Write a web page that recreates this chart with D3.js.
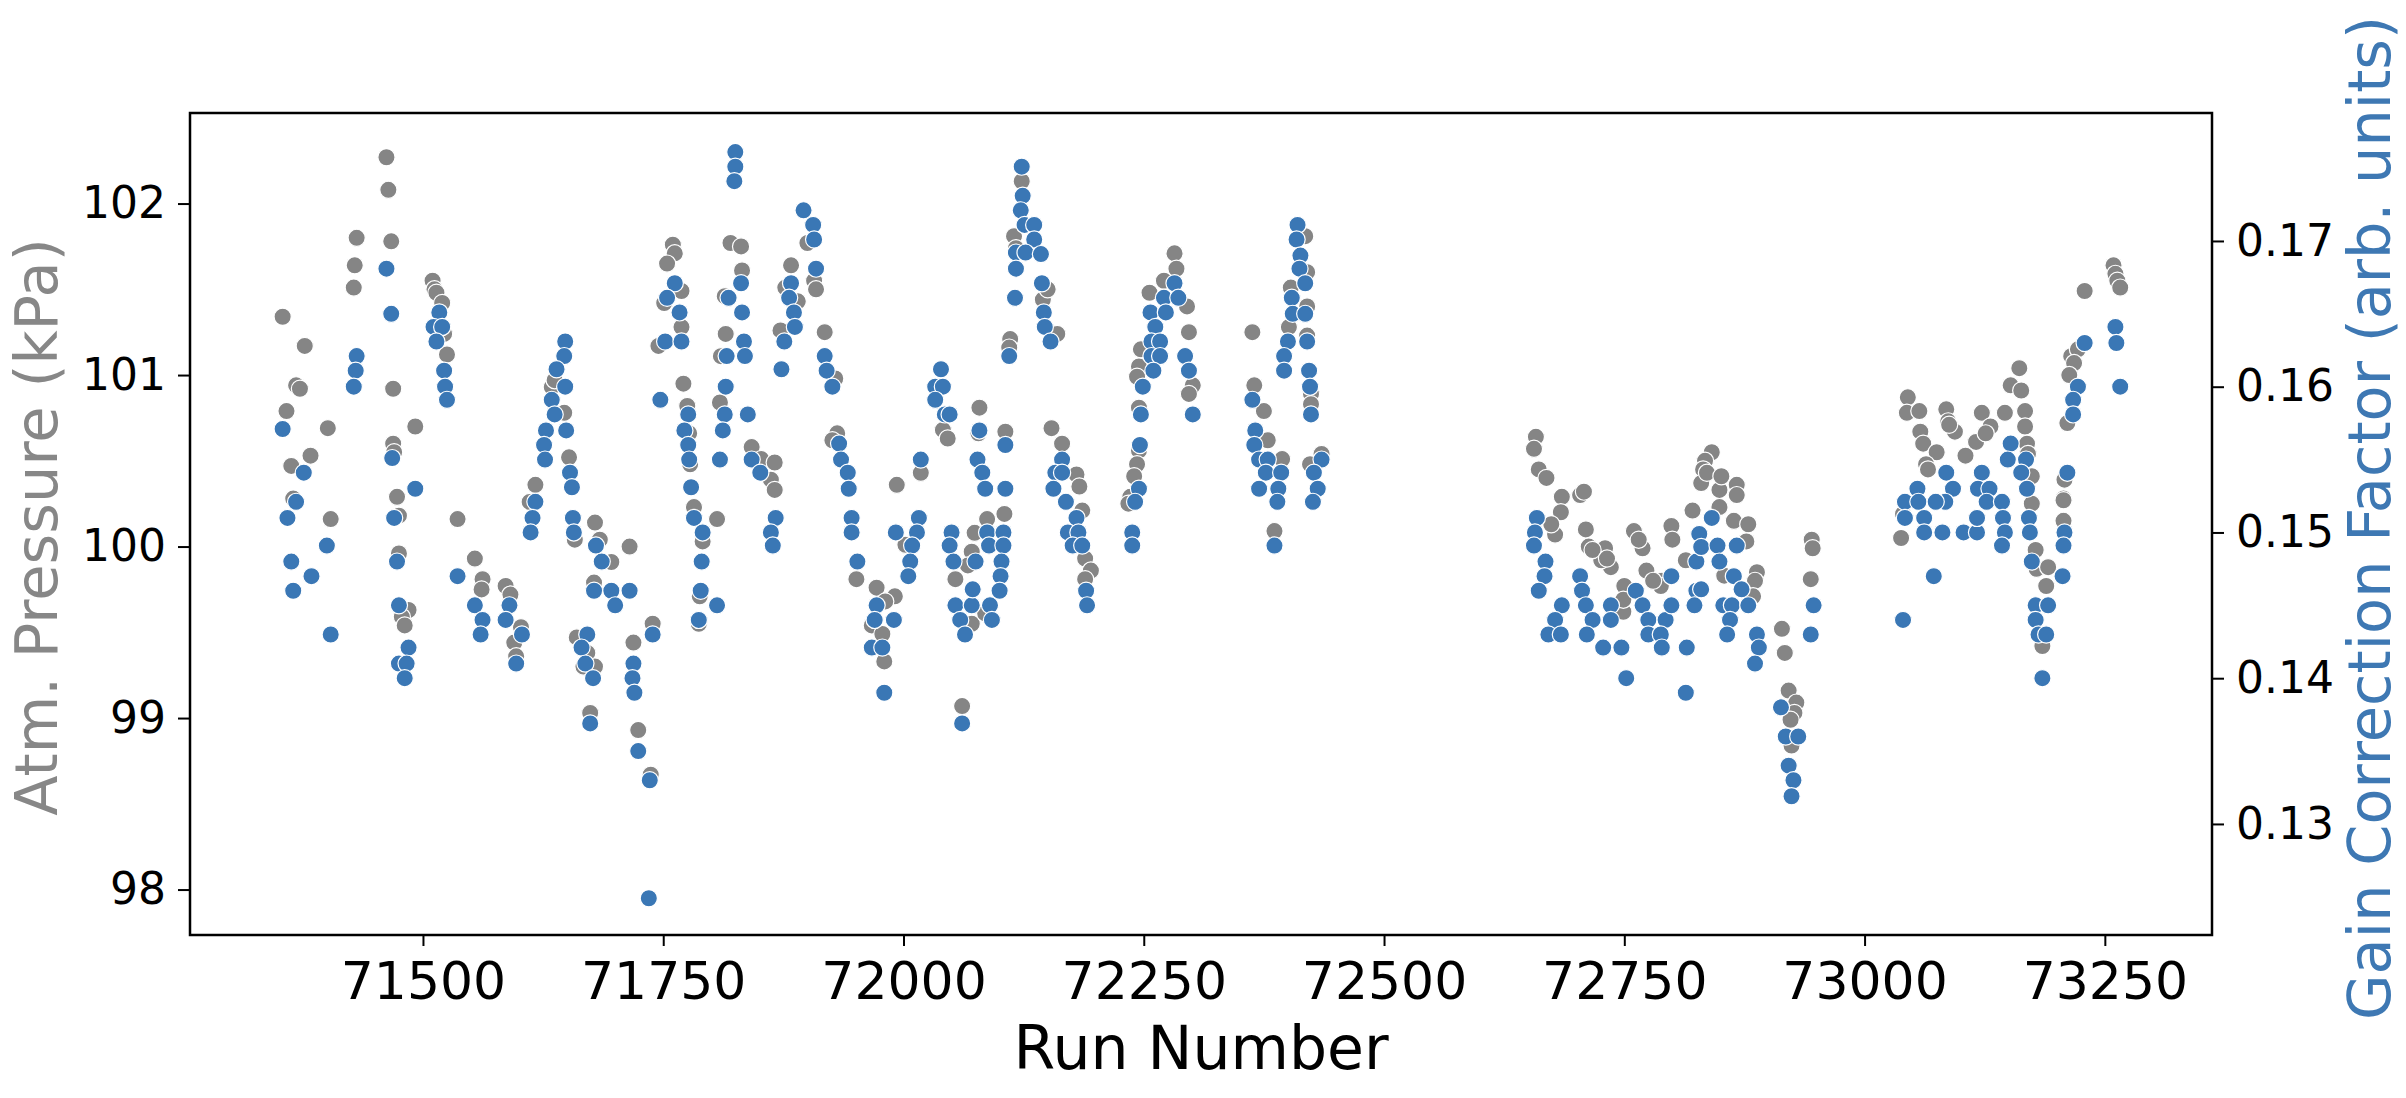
<!DOCTYPE html>
<html>
<head>
<meta charset="utf-8">
<script src="https://cdn.jsdelivr.net/npm/d3@7"></script>
<style>
  body { margin: 0; background: #fff; }
  svg { display: block; font-family: 'DejaVu Sans', sans-serif; }
</style>
</head>
<body>
<div id="chart"></div>
<script>
// atmospheric pressure per run (grey points, left axis)
const pressureRuns = [
  71354, 71377, 71368, 71372, 71358, 71401, 71383, 71363, 71365, 71431,
  71429, 71428, 71462, 71464, 71467, 71469, 71492, 71469, 71470, 71473,
  71510, 71512, 71514, 71520, 71522, 71525, 71617, 71647, 71652, 71634,
  71637, 71760, 71762, 71754, 71769, 71751, 71769, 71745, 71771, 71775,
  71777, 71778,
  71404, 71475, 71475, 71485, 71478, 71481, 71536, 71554, 71562, 71561,
  71586, 71591, 71602, 71595, 71597, 71611, 71658, 71679, 71684, 71696,
  71715, 71678, 71660, 71671, 71679, 71667, 71674, 71719, 71724, 71739,
  71737, 71782, 71791, 71788, 71787, 71806,
  71820, 71831, 71832, 71814, 71815, 71810, 71809, 71842, 71852, 71866,
  71862, 71866, 71883, 71877, 71890, 71872, 71900, 71907, 71909, 71918,
  71929, 71931, 71926, 71993, 72018, 72041, 72046, 72079, 72078, 72106,
  72123, 72115, 72117, 72111, 72110, 72145, 72150, 72160, 72154, 72165,
  72180, 72183, 72282, 72284, 72271, 72256, 72295, 72297, 72247, 72245,
  72243, 72245, 72301, 72297, 72245, 72243, 72240, 72236,
  71951, 71972, 71991, 71981, 71967, 71978, 71980, 72002, 72054, 72074,
  72087, 72071, 72067, 72105, 72061, 72071, 72186, 72189, 72195, 72189,
  72234, 72085,
  72363, 72365, 72375, 72379, 72394, 72401, 72418, 72420, 72403, 72420,
  72420, 72424, 72424, 72435, 72423, 72658, 72656, 72661, 72669, 72685,
  72704, 72708,
  72386, 72684, 72678, 72674, 72710, 72713, 72730, 72736, 72726, 72760,
  72769, 72773, 72750, 72749, 72789, 72788, 72799, 72800, 72814, 72821,
  72717, 72732, 72780, 72749, 72765,
  72841, 72834, 72832, 72830, 72849, 72867, 72867, 72836, 72851, 73045,
  73044, 73057, 73058, 73061, 73075, 73064, 73085, 73087, 73094, 73122,
  73131, 73116, 73105, 73146, 73152, 73161, 73163, 73167, 73167, 73169,
  73174, 73170, 73215, 73222, 73218, 73213, 73211, 73208, 73207, 73229,
  73259, 73261, 73263, 73266, 73066, 73088, 73126,
  72849, 72864, 72879, 72877, 72854, 72888, 72886, 72884, 72914, 72917,
  72921, 72929, 72927, 72923, 72924, 72945, 72946, 72944, 73038, 73040,
  73174, 73178, 73179, 73191, 73189, 73185, 73207, 73207
];
const pressureKPa = [
  101.34, 101.17, 100.94, 100.92, 100.79, 100.69, 100.53, 100.47, 100.28, 101.80,
  101.64, 101.51, 102.27, 102.08, 101.78, 100.92, 100.70, 100.60, 100.55, 100.29,
  101.55, 101.50, 101.48, 101.42, 101.24, 101.12, 100.36, 100.78, 100.52, 100.93,
  100.97, 101.76, 101.71, 101.65, 101.49, 101.42, 101.28, 101.17, 100.95, 100.82,
  100.66, 100.48,
  100.16, 100.18, 99.96, 99.63, 99.59, 99.54, 100.16, 99.93, 99.81, 99.75,
  99.77, 99.72, 99.53, 99.44, 99.36, 100.26, 100.04, 100.14, 100.04, 99.91,
  100.00, 99.79, 99.47, 99.38, 99.30, 99.30, 99.03, 99.44, 98.93, 99.55,
  98.67, 100.23, 100.03, 99.71, 99.55, 100.16,
  101.77, 101.75, 101.61, 101.46, 101.24, 101.11, 100.84, 100.58, 100.51, 100.49,
  100.39, 100.33, 101.64, 101.51, 101.43, 101.26, 101.77, 101.55, 101.50, 101.25,
  100.98, 100.66, 100.62, 100.36, 100.43, 100.68, 100.63, 100.81, 100.66, 100.67,
  102.13, 101.81, 101.74, 101.21, 101.16, 101.44, 101.50, 101.24, 100.69, 100.60,
  100.42, 100.35, 101.71, 101.62, 101.55, 101.48, 101.40, 101.25, 101.15, 101.05,
  100.99, 100.81, 100.94, 100.89, 100.56, 100.48, 100.41, 100.29,
  99.81, 99.76, 99.71, 99.68, 99.54, 99.49, 99.33, 100.01, 99.81, 100.08,
  100.16, 99.97, 99.89, 100.19, 99.07, 99.55, 100.21, 99.93, 99.86, 99.81,
  100.25, 99.61,
  101.25, 100.94, 100.79, 100.62, 100.51, 101.28, 101.81, 101.60, 101.51, 101.40,
  101.23, 100.89, 100.83, 100.54, 100.48, 100.64, 100.57, 100.45, 100.40, 100.29,
  100.30, 100.32,
  100.09, 100.20, 100.07, 100.13, 100.10, 100.00, 99.99, 99.88, 99.92, 100.09,
  99.99, 99.86, 99.77, 99.62, 99.80, 99.77, 100.12, 100.04, 99.92, 100.21,
  99.98, 99.93, 99.80, 99.69, 100.04,
  100.55, 100.50, 100.45, 100.37, 100.33, 100.36, 100.30, 100.43, 100.41, 100.87,
  100.78, 100.79, 100.67, 100.60, 100.55, 100.48, 100.80, 100.73, 100.67, 100.78,
  100.70, 100.61, 100.53, 100.78, 100.94, 101.04, 100.91, 100.79, 100.70, 100.60,
  100.41, 100.54, 101.11, 101.15, 101.07, 101.00, 100.72, 100.39, 100.28, 101.49,
  101.64, 101.59, 101.55, 101.51, 100.45, 100.71, 100.66,
  100.23, 100.15, 100.13, 100.03, 99.83, 99.85, 99.80, 99.71, 99.52, 99.38,
  99.16, 99.09, 99.03, 98.99, 98.84, 100.04, 99.99, 99.81, 100.05, 100.19,
  100.25, 99.98, 99.87, 99.88, 99.77, 99.42, 100.27, 100.15
];

// gain correction factor per run (blue points, right axis)
const gainRuns = [
  71354, 71376, 71462, 71467, 71431, 71430, 71428, 71468, 71492, 71517,
  71511, 71520, 71514, 71522, 71523, 71525, 71648, 71647, 71639, 71648,
  71634, 71637, 71628, 71649, 71626, 71627, 71653, 71655, 71762, 71754,
  71767, 71752, 71769, 71747, 71776, 71772, 71776, 71777, 71779,
  71368, 71359, 71400, 71363, 71384, 71365, 71404, 71470, 71473, 71475,
  71485, 71475, 71483, 71481, 71536, 71554, 71562, 71560, 71590, 71586,
  71603, 71597, 71617, 71614, 71612, 71656, 71657, 71680, 71686, 71678,
  71696, 71715, 71700, 71671, 71665, 71669, 71677, 71674, 71719, 71718,
  71720, 71724, 71739, 71736, 71735, 71782, 71791, 71790, 71789, 71787,
  71806,
  71825, 71825, 71824, 71831, 71818, 71832, 71834, 71816, 71835, 71815,
  71814, 71838, 71812, 71809, 71842, 71851, 71896, 71906, 71907, 71909,
  71883, 71881, 71886, 71887, 71876, 71873, 71918, 71920, 71926, 71933,
  71935, 71942, 71943, 72018, 72039, 72033, 72041, 72033, 72043, 72048,
  72079, 72106, 72077, 72082, 72085, 72106, 72123, 72124, 72122, 72126,
  72136, 72136, 72117, 72127, 72143, 72117, 72116, 72144, 72146, 72147,
  72153, 72110, 72165, 72158, 72165, 72156, 72282, 72271, 72286, 72257,
  72273, 72262, 72258, 72267, 72258, 72267, 72260, 72249, 72293, 72297,
  72247, 72301, 72246, 72245,
  71867, 71862, 71864, 71946, 71946, 71952, 71992, 72016, 72014, 72009,
  72007, 72005, 71972, 71970, 71990, 71967, 71978, 71980, 72050, 72048,
  72052, 72054, 72071, 72072, 72059, 72064, 72061, 72075, 72087, 72089,
  72104, 72104, 72102, 72101, 72100, 72090, 72092, 72169, 72180, 72171,
  72182, 72176, 72186, 72190, 72191, 72241, 72238, 72238,
  72410, 72409, 72413, 72412, 72418, 72404, 72405, 72418, 72400, 72420,
  72396, 72396, 72422, 72423, 72424, 72363, 72366, 72365, 72370, 72379,
  72377, 72393, 72370, 72390, 72435, 72427, 72431,
  72389, 72426, 72386, 72659, 72657, 72656, 72668, 72667, 72661, 72685,
  72678, 72671, 72684, 72704, 72706, 72710, 72717, 72711, 72736, 72736,
  72728, 72747, 72752, 72762, 72769, 72775, 72793, 72775, 72788, 72789,
  72799, 72799, 72814, 72815, 72825, 72823, 72825,
  73229, 73261, 73262, 73266, 73222, 73217, 73217, 73211, 73085, 73092,
  73055, 73122, 73118, 73130, 73152, 73149, 73168, 73163, 73169,
  72841, 72828, 72830, 72847, 72849, 72864, 72872, 72853, 72862, 72879,
  72860, 72857, 72888, 72890, 72886, 72867, 72830, 72913, 72918, 72931,
  72921, 72926, 72924, 72947, 72944, 73040, 73042, 73042, 73056, 73062,
  73062, 73081, 73084, 73074, 73072, 73103, 73117, 73117, 73127, 73143,
  73144, 73146, 73143, 73171, 73172, 73174, 73178, 73191, 73178, 73181,
  73189, 73185, 73208, 73207, 73206
];
const gainFactor = [
  0.1571, 0.1541, 0.1681, 0.1650, 0.1621, 0.1611, 0.1600, 0.1551, 0.1530, 0.1651,
  0.1641, 0.1641, 0.1631, 0.1611, 0.1600, 0.1591, 0.1631, 0.1621, 0.1612, 0.1600,
  0.1591, 0.1581, 0.1570, 0.1570, 0.1560, 0.1550, 0.1541, 0.1531, 0.1671, 0.1661,
  0.1651, 0.1631, 0.1631, 0.1591, 0.1581, 0.1570, 0.1560, 0.1550, 0.1531,
  0.1521, 0.1510, 0.1491, 0.1480, 0.1470, 0.1460, 0.1430, 0.1510, 0.1480, 0.1450,
  0.1421, 0.1410, 0.1410, 0.1400, 0.1470, 0.1450, 0.1440, 0.1430, 0.1450, 0.1440,
  0.1430, 0.1410, 0.1521, 0.1510, 0.1500, 0.1510, 0.1500, 0.1491, 0.1480, 0.1460,
  0.1460, 0.1460, 0.1450, 0.1430, 0.1421, 0.1410, 0.1400, 0.1369, 0.1410, 0.1400,
  0.1390, 0.1350, 0.1430, 0.1330, 0.1249, 0.1510, 0.1500, 0.1480, 0.1460, 0.1440,
  0.1450,
  0.1761, 0.1751, 0.1741, 0.1671, 0.1661, 0.1651, 0.1631, 0.1621, 0.1621, 0.1600,
  0.1581, 0.1581, 0.1570, 0.1550, 0.1550, 0.1541, 0.1721, 0.1711, 0.1701, 0.1681,
  0.1671, 0.1661, 0.1651, 0.1641, 0.1631, 0.1612, 0.1621, 0.1611, 0.1600, 0.1561,
  0.1550, 0.1541, 0.1530, 0.1550, 0.1612, 0.1600, 0.1600, 0.1591, 0.1581, 0.1581,
  0.1570, 0.1560, 0.1550, 0.1541, 0.1530, 0.1530, 0.1751, 0.1731, 0.1721, 0.1711,
  0.1711, 0.1701, 0.1692, 0.1692, 0.1691, 0.1681, 0.1661, 0.1671, 0.1651, 0.1641,
  0.1631, 0.1621, 0.1550, 0.1541, 0.1541, 0.1530, 0.1671, 0.1661, 0.1661, 0.1651,
  0.1651, 0.1641, 0.1631, 0.1631, 0.1621, 0.1621, 0.1611, 0.1600, 0.1621, 0.1611,
  0.1581, 0.1581, 0.1560, 0.1530,
  0.1510, 0.1500, 0.1491, 0.1510, 0.1500, 0.1480, 0.1500, 0.1510, 0.1500, 0.1491,
  0.1480, 0.1470, 0.1450, 0.1440, 0.1440, 0.1421, 0.1421, 0.1390, 0.1500, 0.1491,
  0.1480, 0.1450, 0.1450, 0.1461, 0.1440, 0.1430, 0.1369, 0.1480, 0.1500, 0.1491,
  0.1500, 0.1491, 0.1480, 0.1470, 0.1460, 0.1450, 0.1440, 0.1521, 0.1510, 0.1500,
  0.1500, 0.1491, 0.1491, 0.1460, 0.1450, 0.1521, 0.1500, 0.1491,
  0.1711, 0.1701, 0.1690, 0.1681, 0.1671, 0.1661, 0.1650, 0.1650, 0.1631, 0.1631,
  0.1621, 0.1611, 0.1611, 0.1600, 0.1581, 0.1591, 0.1570, 0.1560, 0.1550, 0.1550,
  0.1541, 0.1541, 0.1530, 0.1530, 0.1550, 0.1541, 0.1530,
  0.1521, 0.1521, 0.1491, 0.1510, 0.1500, 0.1491, 0.1480, 0.1470, 0.1460, 0.1450,
  0.1440, 0.1430, 0.1430, 0.1470, 0.1460, 0.1450, 0.1440, 0.1430, 0.1450, 0.1440,
  0.1421, 0.1421, 0.1400, 0.1460, 0.1450, 0.1440, 0.1440, 0.1430, 0.1430, 0.1421,
  0.1470, 0.1450, 0.1390, 0.1421, 0.1460, 0.1450, 0.1480,
  0.1630, 0.1641, 0.1630, 0.1600, 0.1600, 0.1591, 0.1581, 0.1541, 0.1541, 0.1530,
  0.1530, 0.1541, 0.1530, 0.1530, 0.1561, 0.1550, 0.1550, 0.1541, 0.1530,
  0.1510, 0.1499, 0.1490, 0.1491, 0.1480, 0.1470, 0.1461, 0.1450, 0.1450, 0.1450,
  0.1440, 0.1430, 0.1430, 0.1421, 0.1410, 0.1491, 0.1461, 0.1380, 0.1360, 0.1360,
  0.1340, 0.1330, 0.1319, 0.1450, 0.1430, 0.1440, 0.1521, 0.1510, 0.1521, 0.1510,
  0.1500, 0.1500, 0.1521, 0.1521, 0.1470, 0.1500, 0.1500, 0.1510, 0.1521, 0.1521,
  0.1510, 0.1500, 0.1491, 0.1510, 0.1500, 0.1480, 0.1450, 0.1450, 0.1440, 0.1430,
  0.1430, 0.1400, 0.1500, 0.1491, 0.1470
];

const runTicks = [71500, 71750, 72000, 72250, 72500, 72750, 73000, 73250];
const pressureTicks = [98, 99, 100, 101, 102];
const gainTicks = [0.13, 0.14, 0.15, 0.16, 0.17];

const width = 2406;
const height = 1098;
const plot = { left: 190, right: 2212, top: 113, bottom: 935 };

const svg = d3.select('#chart')
  .append('svg')
  .attr('width', width)
  .attr('height', height);

const xScale = d3.scaleLinear().domain([71257.6, 73361.5]).range([plot.left, plot.right]);
const yPressure = d3.scaleLinear().domain([97.735, 102.528]).range([plot.bottom, plot.top]);
const yGain = d3.scaleLinear().domain([0.12238, 0.17878]).range([plot.bottom, plot.top]);

// grey dots first, blue dots drawn on top
svg.append('g')
  .selectAll('circle')
  .data(d3.zip(pressureRuns, pressureKPa))
  .join('circle')
  .attr('cx', (d) => xScale(d[0]))
  .attr('cy', (d) => yPressure(d[1]))
  .attr('r', 8.6)
  .style('fill', '#858585')
  .style('stroke', '#fff')
  .style('stroke-width', 1.2);

svg.append('g')
  .selectAll('circle')
  .data(d3.zip(gainRuns, gainFactor))
  .join('circle')
  .attr('cx', (d) => xScale(d[0]))
  .attr('cy', (d) => yGain(d[1]))
  .attr('r', 8.6)
  .style('fill', '#3a77b5')
  .style('stroke', '#fff')
  .style('stroke-width', 1.2);

function styleAxis(g, size) {
  g.select('.domain').remove();
  g.selectAll('.tick line').attr('stroke', '#000').attr('stroke-width', 2);
  g.selectAll('.tick text')
    .attr('fill', '#000')
    .style('font-family', "'DejaVu Sans', sans-serif")
    .style('font-size', size + 'px');
}

svg.append('g')
  .attr('transform', `translate(0,${plot.bottom})`)
  .call(d3.axisBottom(xScale).tickValues(runTicks).tickSize(11).tickPadding(16).tickFormat(d3.format('d')))
  .call(styleAxis, 52);

svg.append('g')
  .attr('transform', `translate(${plot.left},0)`)
  .call(d3.axisLeft(yPressure).tickValues(pressureTicks).tickSize(12).tickPadding(12).tickFormat(d3.format('d')))
  .call(styleAxis, 44);

svg.append('g')
  .attr('transform', `translate(${plot.right},0)`)
  .call(d3.axisRight(yGain).tickValues(gainTicks).tickSize(12).tickPadding(12).tickFormat(d3.format('.2f')))
  .call(styleAxis, 44);

// frame
svg.append('rect')
  .attr('x', plot.left)
  .attr('y', plot.top)
  .attr('width', plot.right - plot.left)
  .attr('height', plot.bottom - plot.top)
  .attr('fill', 'none')
  .attr('stroke', '#000')
  .attr('stroke-width', 2.5);

svg.append('text')
  .attr('x', (plot.left + plot.right) / 2)
  .attr('y', 1069)
  .attr('text-anchor', 'middle')
  .style('font-size', '60px')
  .style('fill', '#000')
  .text('Run Number');

svg.append('text')
  .attr('transform', 'translate(57,527) rotate(-90)')
  .attr('text-anchor', 'middle')
  .style('font-size', '59px')
  .style('fill', '#878787')
  .text('Atm. Pressure (kPa)');

svg.append('text')
  .attr('transform', 'translate(2390,518) rotate(-90)')
  .attr('text-anchor', 'middle')
  .style('font-size', '59px')
  .style('fill', '#3e78b3')
  .text('Gain Correction Factor (arb. units)');
</script>
</body>
</html>
